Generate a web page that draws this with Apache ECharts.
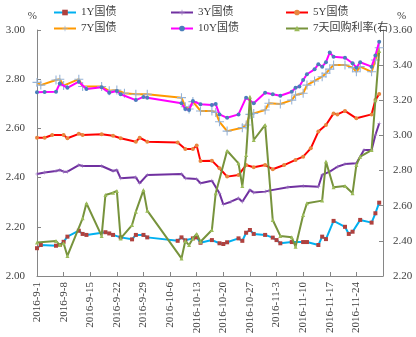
<!DOCTYPE html>
<html><head><meta charset="utf-8">
<script src="https://cdn.jsdelivr.net/npm/echarts@6/dist/echarts.min.js"></script>
<style>html,body{margin:0;padding:0;background:#fff}#c{width:416px;height:337px}</style>
</head><body><div id="c"></div>
<script>
const names = ['1Y国债','3Y国债','5Y国债','7Y国债','10Y国债','7天回购利率(右)'];

const d1Y = ['9-1','9-2','9-6','9-7','9-8','9-9','9-12','9-13','9-14','9-19','9-20','9-21','9-23','9-26','9-27','9-29','9-30','10-8','10-9','10-10','10-12','10-13','10-14','10-17','10-19','10-20','10-21','10-24','10-25','10-26','10-27','10-28','10-31','11-2','11-3','11-4','11-7','11-10','11-11','11-14','11-15','11-16','11-18','11-21','11-22','11-23','11-25','11-28','11-29','11-30'];
const v1Y = [2.113,2.126,2.123,2.126,2.139,2.160,2.184,2.171,2.167,2.178,2.173,2.167,2.157,2.149,2.167,2.167,2.157,2.143,2.157,2.145,2.153,2.157,2.135,2.146,2.133,2.130,2.137,2.153,2.143,2.176,2.187,2.171,2.167,2.156,2.146,2.133,2.138,2.138,2.138,2.126,2.160,2.150,2.224,2.200,2.171,2.180,2.228,2.217,2.255,2.298];

const d3Y = ['9-1','9-3','9-6','9-7','9-8','9-9','9-12','9-13','9-18','9-21','9-22','9-23','9-27','9-28','9-30','10-9','10-10','10-13','10-14','10-17','10-19','10-20','10-22','10-24','10-25','10-27','10-28','10-31','11-1','11-6','11-10','11-14','11-15','11-17','11-19','11-21','11-24','11-26','11-28','11-29','11-30'];
const v3Y = [2.415,2.421,2.427,2.431,2.424,2.424,2.451,2.447,2.447,2.427,2.431,2.397,2.401,2.377,2.411,2.415,2.397,2.394,2.377,2.387,2.336,2.291,2.302,2.316,2.302,2.350,2.339,2.343,2.347,2.361,2.366,2.363,2.411,2.424,2.444,2.455,2.458,2.512,2.512,2.573,2.620];

const d5Y = ['9-1','9-3','9-5','9-8','9-9','9-12','9-13','9-18','9-21','9-23','9-27','9-28','9-30','10-8','10-10','10-12','10-13','10-14','10-17','10-19','10-21','10-24','10-26','10-28','10-31','11-2','11-5','11-8','11-10','11-12','11-14','11-16','11-18','11-19','11-21','11-24','11-28','11-29','11-30'];
const v5Y = [2.562,2.562,2.573,2.573,2.560,2.578,2.573,2.576,2.570,2.560,2.546,2.562,2.546,2.543,2.516,2.516,2.530,2.467,2.469,2.438,2.404,2.411,2.451,2.442,2.451,2.434,2.451,2.472,2.485,2.519,2.587,2.614,2.661,2.657,2.671,2.641,2.657,2.715,2.740];

const d7Y = ['9-1','9-2','9-6','9-7','9-8','9-12','9-13','9-18','9-20','9-22','9-24','9-27','9-30','10-9','10-10','10-11','10-12','10-14','10-17','10-18','10-19','10-21','10-25','10-26','10-27','10-28','10-31','11-1','11-4','11-7','11-8','11-10','11-11','11-13','11-15','11-16','11-17','11-18','11-21','11-23','11-24','11-25','11-28','11-29','11-30'];
const v7Y = [2.787,2.776,2.797,2.800,2.774,2.800,2.770,2.770,2.753,2.756,2.743,2.739,2.739,2.725,2.688,2.679,2.709,2.671,2.671,2.665,2.627,2.589,2.603,2.614,2.657,2.661,2.675,2.702,2.699,2.715,2.736,2.743,2.776,2.793,2.810,2.824,2.841,2.858,2.858,2.847,2.830,2.851,2.830,2.878,2.928];

const d10Y = ['9-1','9-3','9-6','9-7','9-9','9-12','9-14','9-18','9-20','9-22','9-23','9-27','9-29','9-30','10-9','10-10','10-11','10-12','10-14','10-17','10-18','10-19','10-21','10-24','10-26','10-28','10-31','11-2','11-4','11-7','11-8','11-9','11-10','11-11','11-13','11-14','11-15','11-16','11-17','11-18','11-21','11-23','11-24','11-25','11-28','11-29','11-30'];
const v10Y = [2.747,2.748,2.749,2.783,2.765,2.790,2.760,2.767,2.745,2.752,2.739,2.715,2.728,2.725,2.702,2.679,2.675,2.711,2.698,2.695,2.699,2.657,2.643,2.657,2.725,2.702,2.745,2.739,2.733,2.749,2.765,2.770,2.797,2.820,2.840,2.861,2.851,2.869,2.909,2.891,2.887,2.865,2.847,2.869,2.851,2.896,2.952];

const dRepo = ['9-1','9-6','9-7','9-8','9-9','9-13','9-14','9-18','9-19','9-21','9-22','9-23','9-26','9-27','9-29','9-30','10-9','10-10','10-11','10-12','10-13','10-14','10-17','10-18','10-21','10-24','10-25','10-26','10-27','10-28','10-31','11-2','11-4','11-7','11-8','11-10','11-11','11-15','11-16','11-18','11-21','11-23','11-24','11-25','11-28','11-29','11-30'];
const vRepo = [2.390,2.399,2.376,2.386,2.314,2.528,2.614,2.428,2.661,2.674,2.684,2.414,2.490,2.566,2.689,2.572,2.300,2.399,2.376,2.414,2.439,2.395,2.462,2.671,2.913,2.841,2.712,2.889,3.220,2.974,3.060,2.519,2.428,2.420,2.367,2.547,2.614,2.629,2.851,2.705,2.712,2.671,2.832,2.879,2.917,3.200,3.480];

const leftTicks = [2.0, 3.0, 0.2];
const rightTicks = [2.2, 3.6, 0.2];

const base = Date.UTC(2016, 8, 1);
function dayOf(s){ const p = s.split('-').map(Number); return (Date.UTC(2016, p[0]-1, p[1]) - base) / 864e5; }
function mk(ds, vs){ return ds.map((s,i) => [dayOf(s), vs[i]]); }
function fmtDay(v){ const dt = new Date(base + v*864e5); return '2016-' + (dt.getUTCMonth()+1) + '-' + dt.getUTCDate(); }

const PLUS = 'path://M4.4,0H5.6V4.4H10V5.6H5.6V10H4.4V5.6H0V4.4H4.4Z';
const FONT = '"Liberation Serif","Noto Sans CJK SC",serif';
const cfg = [
  {d:d1Y, v:v1Y, line:'#00B0F0', mark:'#B0413E', sym:'rect', size:4, y:0},
  {d:d3Y, v:v3Y, line:'#7030A0', mark:'#9D7BC0', sym:PLUS, size:4, y:0},
  {d:d5Y, v:v5Y, line:'#FF0000', mark:'#E8863F', sym:'circle', size:4, y:0},
  {d:d7Y, v:v7Y, line:'#FF9900', mark:'#95B3D7', sym:PLUS, size:9, y:0},
  {d:d10Y, v:v10Y, line:'#FF00FF', mark:'#4A7EBB', sym:'circle', size:4, y:0},
  {d:dRepo, v:vRepo, line:'#77933C', mark:'#9BBB59', sym:'triangle', size:4, y:1}
];
const series = cfg.map((c,i) => ({
  name: names[i], type:'line', yAxisIndex:c.y, data: mk(c.d, c.v),
  symbol:c.sym, symbolSize:c.size, showSymbol:true, animation:false,
  lineStyle:{color:c.line, width:2}, itemStyle:{color:c.mark, borderWidth:0},
  emphasis:{disabled:true}, z: 2+i
}));
const legPos = [[48,2],[165,2],[280,2],[48,18],[165,18],[280,18]];
const legends = names.map((n,i) => ({
  data:[n], left:legPos[i][0], top:legPos[i][1], itemWidth:22, itemHeight:7, itemGap:3,
  textStyle:{fontFamily:FONT, fontSize:11, color:'#404040'}, selectedMode:false
}));
const axisCommon = {
  axisLine:{show:true, lineStyle:{color:'#868686', width:1}},
  axisTick:{show:true, inside:true, length:4, lineStyle:{color:'#868686'}},
  splitLine:{show:false}
};
const chart = echarts.init(document.getElementById('c'), null, {renderer:'canvas'});
chart.setOption({
  backgroundColor:'#fff', animation:false,
  legend: legends,
  grid:{left:37, right:33, top:30, bottom:61, containLabel:false},
  xAxis:{type:'value', min:0, max:91, interval:7,
    axisLine:{show:true, onZero:false, lineStyle:{color:'#868686'}},
    axisTick:{show:true, inside:true, length:4, lineStyle:{color:'#868686'}},
    splitLine:{show:false},
    axisLabel:{rotate:90, fontFamily:FONT, fontSize:11, color:'#404040', margin:6, showMaxLabel:false, formatter:fmtDay}
  },
  yAxis:[
    Object.assign({type:'value', position:'left', min:leftTicks[0], max:leftTicks[1], interval:leftTicks[2], name:'%', nameGap:8,
      nameTextStyle:{fontFamily:FONT, fontSize:11, color:'#404040', align:'right'}}, axisCommon,
      {axisLabel:{fontFamily:FONT, fontSize:11, color:'#404040', margin:12, formatter:v=>v.toFixed(2)}}),
    Object.assign({type:'value', position:'right', min:rightTicks[0], max:rightTicks[1], interval:rightTicks[2], name:'%', nameGap:8,
      nameTextStyle:{fontFamily:FONT, fontSize:11, color:'#404040', align:'left', padding:[0,0,0,14]}}, axisCommon,
      {axisLabel:{fontFamily:FONT, fontSize:11, color:'#404040', margin:10, formatter:v=>v.toFixed(2)}})
  ],
  series: series
});
</script></body></html>
